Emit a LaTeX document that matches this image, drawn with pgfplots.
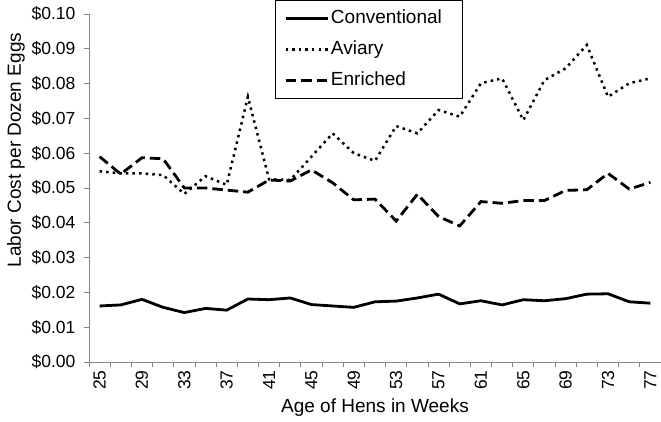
\documentclass[border=0pt]{standalone}
\usepackage{fontspec}
\setmainfont{Liberation Sans}
\usepackage{pgfplots}
\usepackage{pgfplotstable}
\pgfplotsset{compat=1.18}
\definecolor{axisgray}{RGB}{134,134,134}
\pgfplotstableread{
week conv aviary enriched
25 0.0161 0.0548 0.0590
27 0.0164 0.0542 0.0540
29 0.0180 0.0542 0.0587
31 0.0157 0.0537 0.0584
33 0.0142 0.0483 0.0500
35 0.0154 0.0534 0.0500
37 0.0149 0.0509 0.0494
39 0.0181 0.0762 0.0488
41 0.0179 0.0525 0.0523
43 0.0184 0.0523 0.0520
45 0.0165 0.0590 0.0552
47 0.0161 0.0657 0.0515
49 0.0157 0.0600 0.0466
51 0.0173 0.0578 0.0468
53 0.0175 0.0678 0.0405
55 0.0184 0.0657 0.0482
57 0.0195 0.0724 0.0418
59 0.0167 0.0705 0.0391
61 0.0176 0.0801 0.0461
63 0.0164 0.0815 0.0456
65 0.0179 0.0695 0.0464
67 0.0176 0.0810 0.0464
69 0.0182 0.0844 0.0493
71 0.0195 0.0911 0.0495
73 0.0196 0.0762 0.0542
75 0.0173 0.0801 0.0497
77 0.0169 0.0815 0.0516
}\datatable
\begin{document}
\begin{tikzpicture}
\begin{axis}[
  scale only axis, width=572pt, height=348pt,
  xmin=24, xmax=78, ymin=0, ymax=0.1,
  axis x line*=bottom, axis y line*=left,
  axis line style={axisgray, line width=0.8pt},
  xtick={25,29,...,77},
  minor xtick={24,26,...,78},
  major x tick style={draw=none},
  minor x tick style={axisgray, line width=0.8pt},
  y tick style={axisgray, line width=0.8pt},
  major tick length=5pt, minor tick length=5pt,
  tick align=outside,
  ytick={0,0.01,0.02,0.03,0.04,0.05,0.06,0.07,0.08,0.09,0.1},
  yticklabels={\$0.00,\$0.01,\$0.02,\$0.03,\$0.04,\$0.05,\$0.06,\$0.07,\$0.08,\$0.09,\$0.10},
  scaled y ticks=false,
  /pgf/number format/assume math mode=true,
  tick label style={font=\fontsize{17.5}{20}\selectfont, text=black},
  xticklabel style={rotate=90, anchor=east},
  yticklabel style={xshift=-5pt},
  label style={font=\fontsize{19}{22}\selectfont},
  xlabel={Age of Hens in Weeks},
  xlabel style={yshift=-2pt},
  ylabel={Labor Cost per Dozen Eggs},
  ylabel style={at={(ticklabel cs:0.609)}},
  legend style={at={(rel axis cs:0.325,1.0402)}, anchor=north west,
    draw=black, line width=0.6pt, font=\fontsize{19}{22}\selectfont,
    legend cell align=left, row sep=9pt, inner xsep=9pt, inner ysep=7pt,
    nodes={text height=14pt, text depth=4pt}},
  legend image code/.code={\draw[#1] (0pt,0pt) -- (42pt,0pt);},
]
\addplot[black, line width=2.8pt, line join=round] table[x=week, y=conv] {\datatable};
\addlegendentry{Conventional\hspace*{9pt}}
\addplot[black, line width=2.5pt, dash pattern=on 2.5pt off 4.1pt] table[x=week, y=aviary] {\datatable};
\addlegendentry{Aviary}
\addplot[black, line width=2.8pt, dash pattern=on 10.5pt off 5pt] table[x=week, y=enriched] {\datatable};
\addlegendentry{Enriched}
\end{axis}
\pgfresetboundingbox
\path[use as bounding box] (-89pt,-60pt) rectangle (572pt,362pt);
\end{tikzpicture}
\end{document}
